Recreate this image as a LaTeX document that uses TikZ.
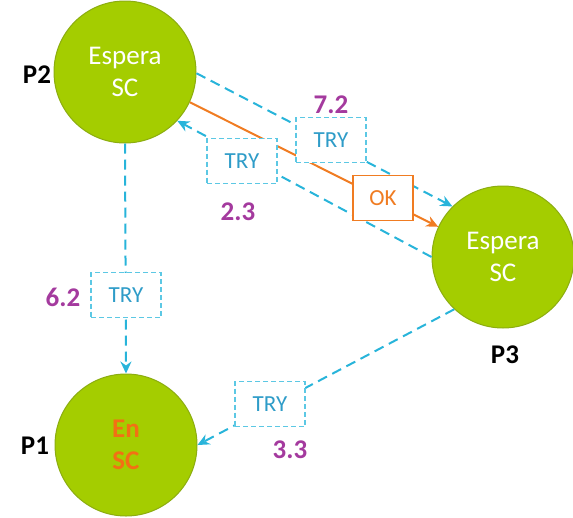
\documentclass[tikz,border=0pt]{standalone}
\usepackage{fontspec}
\setmainfont{Carlito}
\usetikzlibrary{arrows.meta}
\definecolor{grn}{HTML}{A4CD00}
\definecolor{grnb}{HTML}{8CAD10}
\definecolor{cy}{HTML}{28B4DA}
\definecolor{cyb}{HTML}{5CC8E4}
\definecolor{cyt}{HTML}{2E9CC8}
\definecolor{mag}{HTML}{A43A9E}
\definecolor{org}{HTML}{F07C22}
\definecolor{orgt}{HTML}{F27014}
\tikzset{
  proc/.style={circle, fill=grn, draw=grnb, line width=1pt, minimum size=142pt, inner sep=0pt,
    align=center, text=white, font=\fontsize{27}{32}\selectfont},
  plabel/.style={font=\bfseries\fontsize{27}{30}\selectfont, text=black},
  num/.style={font=\bfseries\fontsize{27}{30}\selectfont, text=mag},
  trybox/.style={draw=cyb, fill=white, dash pattern=on 5pt off 3pt, line width=1.5pt,
    minimum width=70pt, minimum height=45pt, inner sep=0pt, text=cyt, font=\fontsize{23}{26}\selectfont},
  okbox/.style={draw=org, fill=white, line width=1.5pt,
    minimum width=60pt, minimum height=45pt, inner sep=0pt, text=org, font=\fontsize{23}{26}\selectfont},
  msg/.style={draw=cy, line width=2pt, dash pattern=on 10pt off 6pt,
    -{Stealth[length=12pt,width=11pt,inset=4pt]}},
  okmsg/.style={draw=org, line width=2pt, -{Stealth[length=12pt,width=11pt,inset=4pt]}}
}
\begin{document}
\begin{tikzpicture}[x=1pt,y=-1pt]
\useasboundingbox (0,0) rectangle (573,517);
\node[proc] (P2) at (125,72) {Espera\\SC};
\node[proc] (P3) at (503,257) {Espera\\SC};
\node[proc, text=orgt, font=\bfseries\fontsize{27}{32}\selectfont] (P1) at (126,445) {En\\SC};
\node[plabel] (l2) at (37,75) {P2};
\node[plabel] (l1) at (35,446) {P1};
\node[plabel] (l3) at (505,355) {P3};
% connectors
\draw[msg] (P2.-1) -- (P3.135);
\draw[msg] (P3.180) -- (P2.-43);
\draw[okmsg] (P2.-25) -- (P3.155);
\draw[msg] (P2.south) -- (P1.north);
\draw[msg] (P3.-133) -- (P1.0);
% message boxes
\node[trybox] (t1) at (331,140) {TRY};
\node[trybox] (t2) at (242,161) {TRY};
\node[okbox] (ok) at (383,198) {OK};
\node[trybox] (t4) at (126,295) {TRY};
\node[trybox] (t5) at (270,404) {TRY};
\node[num] (n1) at (331,105) {7.2};
\node[num] (n2) at (238,212) {2.3};
\node[num] (n4) at (63,297) {6.2};
\node[num] (n5) at (290,450) {3.3};
\end{tikzpicture}
\end{document}
